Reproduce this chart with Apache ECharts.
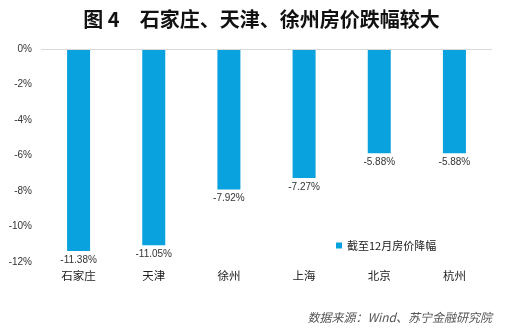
<!DOCTYPE html>
<html><head><meta charset="utf-8">
<script src="https://cdn.jsdelivr.net/npm/echarts@6/dist/echarts.min.js"></script>
<style>html,body{margin:0;padding:0;background:#fff}#c{width:523px;height:329px}</style>
</head><body><div id="c"></div>
<script>
const categories = ['石家庄','天津','徐州','上海','北京','杭州'];
const values = [-11.38, -11.05, -7.92, -7.27, -5.88, -5.88];
const seriesName = '截至12月房价降幅';
const titleText = '图 4\u3000石家庄、天津、徐州房价跌幅较大';
const sourceText = '数据来源：Wind、苏宁金融研究院';

const chart = echarts.init(document.getElementById('c'));
chart.setOption({
  animation: false,
  title: [{
    text: titleText, left: 'center', top: 4,
    textStyle: {fontFamily: 'Noto Sans CJK SC', fontSize: 20, fontWeight: 'bold', color: '#111'}
  },{
    text: sourceText, right: 26, top: 306,
    textStyle: {fontFamily: 'Noto Sans CJK SC', fontSize: 12, fontWeight: 'normal', fontStyle: 'italic', color: '#555'}
  }],
  legend: {
    data: [seriesName], left: 331, top: 235,
    itemWidth: 6, itemHeight: 6, itemGap: 3, icon: 'rect',
    textStyle: {fontFamily: 'Noto Sans CJK SC', fontSize: 11, color: '#222'}
  },
  grid: {left: 41, right: 31, top: 49, bottom: 67},
  xAxis: {
    type: 'category', data: categories, position: 'bottom',
    axisLine: {show: false}, axisTick: {show: false},
    axisLabel: {fontFamily: 'Noto Sans CJK SC', fontSize: 11.5, color: '#222', margin: 8}
  },
  yAxis: {
    type: 'value', min: -12, max: 0, interval: 2,
    splitLine: {show: false},
    axisLine: {show: false}, axisTick: {show: false},
    axisLabel: {formatter: v => v + '%', fontFamily: 'Liberation Sans', fontSize: 10, color: '#333', margin: 9}
  },
  series: [{
    name: seriesName, type: 'bar', data: values, barWidth: 23,
    itemStyle: {color: '#0AA2DE'},
    label: {show: true, position: 'bottom', distance: 4, formatter: p => p.value.toFixed(2) + '%',
      fontFamily: 'Liberation Sans', fontSize: 10, color: '#333'},
    markLine: {
      silent: true, symbol: 'none', label: {show: false},
      lineStyle: {color: '#d9d9d9', type: 'solid', width: 1},
      data: [{yAxis: 0}]
    }
  }]
});
</script></body></html>
